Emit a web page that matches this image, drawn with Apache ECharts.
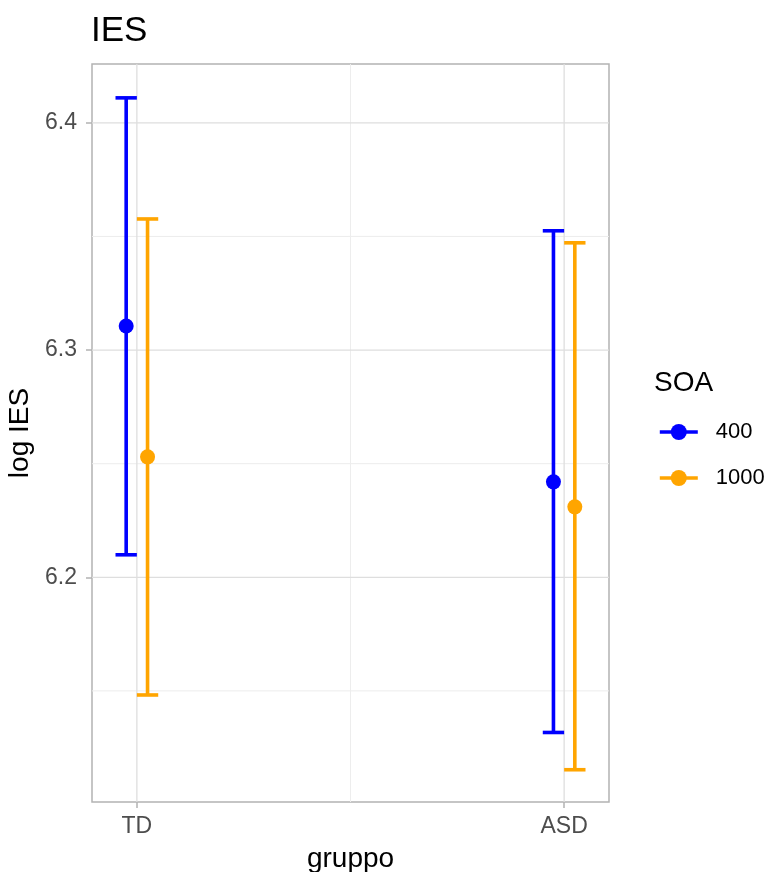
<!DOCTYPE html>
<html>
<head>
<meta charset="utf-8">
<script src="https://cdn.jsdelivr.net/npm/echarts@6/dist/echarts.min.js"></script>
<style>
  html, body { margin: 0; padding: 0; background: #ffffff; }
  #chart { width: 769px; height: 872px; }
</style>
</head>
<body>
<div id="chart"></div>
<script>
// Groups on the x axis and SOA levels (legend)
const groups = ['TD', 'ASD'];
const soaLevels = ['400', '1000'];

// Mean log IES with lower / upper error bar limits, per group
const mean400 = [6.3106, 6.2420];
const low400 = [6.2099, 6.1317];
const high400 = [6.4110, 6.3525];

const mean1000 = [6.2530, 6.2310];
const low1000 = [6.1482, 6.1153];
const high1000 = [6.3577, 6.3472];

// Tick labels / grid lines
const yMajorTicks = [6.2, 6.3, 6.4];
const yMinorTicks = [6.15, 6.25, 6.35];
const xMinorTicks = [1.5];

const stats = {
  '400': { mean: mean400, low: low400, high: high400 },
  '1000': { mean: mean1000, low: low1000, high: high1000 }
};
const colors = { '400': '#0000ff', '1000': '#ffa500' };
const dodge = { '400': -0.025, '1000': 0.025 };
const capHalf = 0.025;
const FONT = '"Liberation Sans", Arial, Helvetica, sans-serif';
const groupPos = groups.map((g, i) => i + 1);

const X_MIN = 0.895, X_MAX = 2.105;
const Y_MIN = 6.1011, Y_MAX = 6.4259;

// Panel grid lines drawn through the axis scales
function gridSeries(values, horizontal, color, width) {
  return {
    type: 'custom',
    silent: true,
    z: 0,
    data: values.map(v => horizontal ? [1, v] : [v, 6.3]),
    renderItem: function (params, api) {
      const cs = params.coordSys;
      const p = api.coord([api.value(0), api.value(1)]);
      const shape = horizontal
        ? { x1: cs.x, y1: p[1], x2: cs.x + cs.width, y2: p[1] }
        : { x1: p[0], y1: cs.y, x2: p[0], y2: cs.y + cs.height };
      return { type: 'line', shape: shape, style: { stroke: color, lineWidth: width } };
    }
  };
}

const series = [
  gridSeries(yMinorTicks, true, '#ededed', 1),
  gridSeries(xMinorTicks, false, '#ededed', 1),
  gridSeries(yMajorTicks, true, '#dedede', 1.3),
  gridSeries(groupPos, false, '#dedede', 1.3)
];

// Points first so the legend icon comes from the point series
soaLevels.forEach(level => {
  series.push({
    name: level,
    type: 'line',
    z: 4,
    symbol: 'circle',
    symbolSize: 15,
    color: colors[level],
    itemStyle: { color: colors[level] },
    lineStyle: { color: colors[level], width: 3.6, opacity: 0 },
    data: groupPos.map((x, i) => [x + dodge[level], stats[level].mean[i]])
  });
});

soaLevels.forEach(level => {
  const color = colors[level];
  series.push({
    name: level,
    type: 'custom',
    z: 3,
    encode: { x: 0, y: [1, 2] },
    data: groupPos.map((x, i) => [x + dodge[level], stats[level].low[i], stats[level].high[i]]),
    renderItem: function (params, api) {
      const x = api.value(0);
      const lo = api.value(1);
      const hi = api.value(2);
      const top = api.coord([x, hi]);
      const bot = api.coord([x, lo]);
      const xl = api.coord([x - capHalf, hi])[0];
      const xr = api.coord([x + capHalf, hi])[0];
      const style = { stroke: color, lineWidth: 3.6, lineCap: 'butt' };
      return {
        type: 'group',
        children: [
          { type: 'line', shape: { x1: top[0], y1: top[1], x2: bot[0], y2: bot[1] }, style: style },
          { type: 'line', shape: { x1: xl, y1: top[1], x2: xr, y2: top[1] }, style: style },
          { type: 'line', shape: { x1: xl, y1: bot[1], x2: xr, y2: bot[1] }, style: style }
        ]
      };
    }
  });
});

const chart = echarts.init(document.getElementById('chart'), null, { renderer: 'canvas' });
chart.setOption({
  backgroundColor: '#ffffff',
  animation: false,
  title: [
    {
      text: 'IES', left: 86, top: 9,
      textStyle: { fontFamily: FONT, fontSize: 35, fontWeight: 'normal', color: '#000000' }
    },
    {
      text: 'SOA', left: 649, top: 364,
      textStyle: { fontFamily: FONT, fontSize: 28, fontWeight: 'normal', color: '#000000' }
    }
  ],
  legend: {
    orient: 'vertical',
    left: 653,
    top: 416,
    itemWidth: 38,
    itemHeight: 20,
    itemGap: 24,
    data: soaLevels,
    selectedMode: false,
    lineStyle: { width: 3.6, opacity: 1 },
    textStyle: { fontFamily: FONT, fontSize: 22, color: '#000000', padding: [0, 0, 0, 13] }
  },
  grid: {
    left: 92, right: 160, top: 64, bottom: 70,
    show: true,
    borderColor: '#b3b3b3',
    borderWidth: 1.5,
    backgroundColor: 'transparent',
    outerBoundsMode: 'none'
  },
  xAxis: {
    type: 'value',
    min: X_MIN,
    max: X_MAX,
    splitLine: { show: false },
    axisLine: { show: false },
    axisTick: { show: true, customValues: groupPos, length: 6, lineStyle: { color: '#b3b3b3', width: 1.5 } },
    axisLabel: {
      customValues: groupPos,
      formatter: v => groups[Math.round(v) - 1],
      margin: 13,
      fontFamily: FONT, fontSize: 23, color: '#4d4d4d'
    },
    name: 'gruppo',
    nameLocation: 'middle',
    nameGap: 43,
    nameTextStyle: { fontFamily: FONT, fontSize: 28, color: '#000000' }
  },
  yAxis: {
    type: 'value',
    min: Y_MIN,
    max: Y_MAX,
    splitLine: { show: false },
    axisLine: { show: false },
    axisTick: { show: true, customValues: yMajorTicks, length: 6, lineStyle: { color: '#b3b3b3', width: 1.5 } },
    axisLabel: {
      customValues: yMajorTicks,
      formatter: v => v.toFixed(1),
      margin: 15,
      fontFamily: FONT, fontSize: 23, color: '#4d4d4d'
    },
    name: 'log IES',
    nameLocation: 'middle',
    nameGap: 53,
    nameTextStyle: { fontFamily: FONT, fontSize: 28, color: '#000000' }
  },
  series: series
});
</script>
</body>
</html>
